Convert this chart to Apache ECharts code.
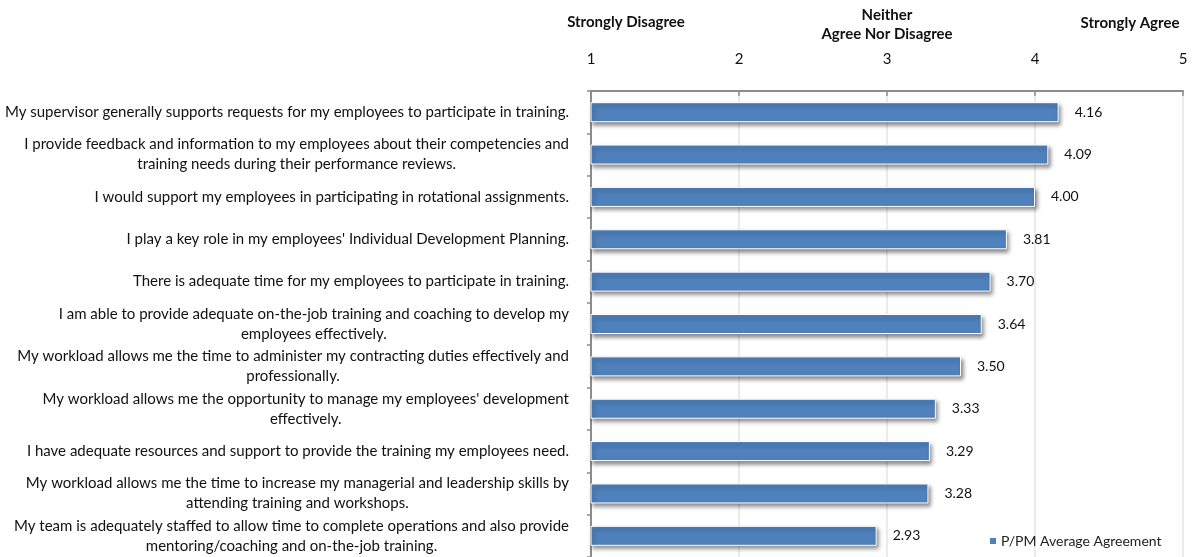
<!DOCTYPE html>
<html>
<head>
<meta charset="utf-8">
<script src="https://cdn.jsdelivr.net/npm/echarts@6/dist/echarts.min.js"></script>
<style>
  html, body { margin: 0; padding: 0; background: #fff; }
  #chart { width: 1192px; height: 557px; }
</style>
</head>
<body>
<div id="chart"></div>
<script>
// Survey statements, top to bottom
const statements = [
  'My supervisor generally supports requests for my employees to participate in training.',
  'I provide feedback and information to my employees about their competencies and\ntraining needs during their performance reviews.',
  'I would support my employees in participating in rotational assignments.',
  "I play a key role in my employees' Individual Development Planning.",
  'There is adequate time for my employees to participate in training.',
  'I am able to provide adequate on-the-job training and coaching to develop my\nemployees effectively.',
  'My workload allows me the time to administer my contracting duties effectively and\nprofessionally.',
  "My workload allows me the opportunity to manage my employees' development\neffectively.",
  'I have adequate resources and support to provide the training my employees need.',
  'My workload allows me the time to increase my managerial and leadership skills by\nattending training and workshops.',
  'My team is adequately staffed to allow time to complete operations and also provide\nmentoring/coaching and on-the-job training.'
];

// Average agreement score per statement
const averageAgreement = [4.16, 4.09, 4.00, 3.81, 3.70, 3.64, 3.50, 3.33, 3.29, 3.28, 2.93];

const seriesName = 'P/PM Average Agreement';

// Scale anchor captions shown above the axis
const scaleCaptions = ['Strongly Disagree', 'Neither\nAgree Nor Disagree', 'Strongly Agree'];

const FONT = 'Lato, "Open Sans", sans-serif';
const BAR_BLUE = '#4F81BD';

const chart = echarts.init(document.getElementById('chart'), null, { renderer: 'canvas' });

chart.setOption({
  animation: false,
  backgroundColor: '#ffffff',
  textStyle: { fontFamily: FONT },
  grid: { left: 591, right: 9, top: 91, height: 467, containLabel: false },
  xAxis: {
    type: 'value',
    position: 'top',
    min: 1,
    max: 5,
    interval: 1,
    axisLine: { show: true, lineStyle: { color: '#8c8c8c', width: 2 } },
    axisTick: { show: true, inside: true, length: 5, lineStyle: { color: '#8c8c8c', width: 1.5 } },
    axisLabel: { margin: 24, fontSize: 15, color: '#111', fontFamily: FONT },
    splitLine: { show: true, lineStyle: { color: '#e4e4e4', width: 1.5 } }
  },
  yAxis: {
    type: 'category',
    inverse: true,
    data: statements,
    axisLine: { show: true, lineStyle: { color: '#8c8c8c', width: 2 } },
    axisTick: { show: true, length: 4, lineStyle: { color: '#8c8c8c', width: 1.5 } },
    axisLabel: {
      margin: 22,
      align: 'right',
      lineHeight: 20,
      formatter: function (v) {
        return v.split('\n').map(function (l) { return '{c|' + l + '}'; }).join('\n');
      },
      rich: {
        c: { align: 'center', fontSize: 15, lineHeight: 20, color: '#111', fontFamily: FONT }
      }
    }
  },
  legend: {
    data: [seriesName],
    left: 983,
    top: 529,
    icon: 'rect',
    itemWidth: 8,
    itemHeight: 8,
    itemGap: 6,
    textStyle: { fontSize: 14, color: '#222', fontFamily: FONT, padding: [0, 0, 0, -1] }
  },
  series: [{
    name: seriesName,
    type: 'bar',
    data: averageAgreement,
    barWidth: 20,
    itemStyle: {
      color: BAR_BLUE,
      borderColor: '#ffffff',
      borderWidth: 1,
      shadowColor: 'rgba(0,0,0,0.45)',
      shadowBlur: 4,
      shadowOffsetX: 2,
      shadowOffsetY: 3
    },
    label: {
      show: true,
      position: 'right',
      distance: 16,
      fontSize: 14,
      color: '#111',
      fontFamily: FONT,
      formatter: function (p) { return p.value.toFixed(2); }
    }
  }],
  graphic: [
    {
      type: 'text', x: 626, y: 15,
      style: { text: scaleCaptions[0], font: 'bold 15px ' + FONT, fill: '#111', align: 'center' }
    },
    {
      type: 'text', x: 887, y: 6,
      style: { text: scaleCaptions[1], font: 'bold 15px ' + FONT, fill: '#111', align: 'center', lineHeight: 19 }
    },
    {
      type: 'text', x: 1130, y: 16,
      style: { text: scaleCaptions[2], font: 'bold 15px ' + FONT, fill: '#111', align: 'center' }
    }
  ]
});
</script>
</body>
</html>
